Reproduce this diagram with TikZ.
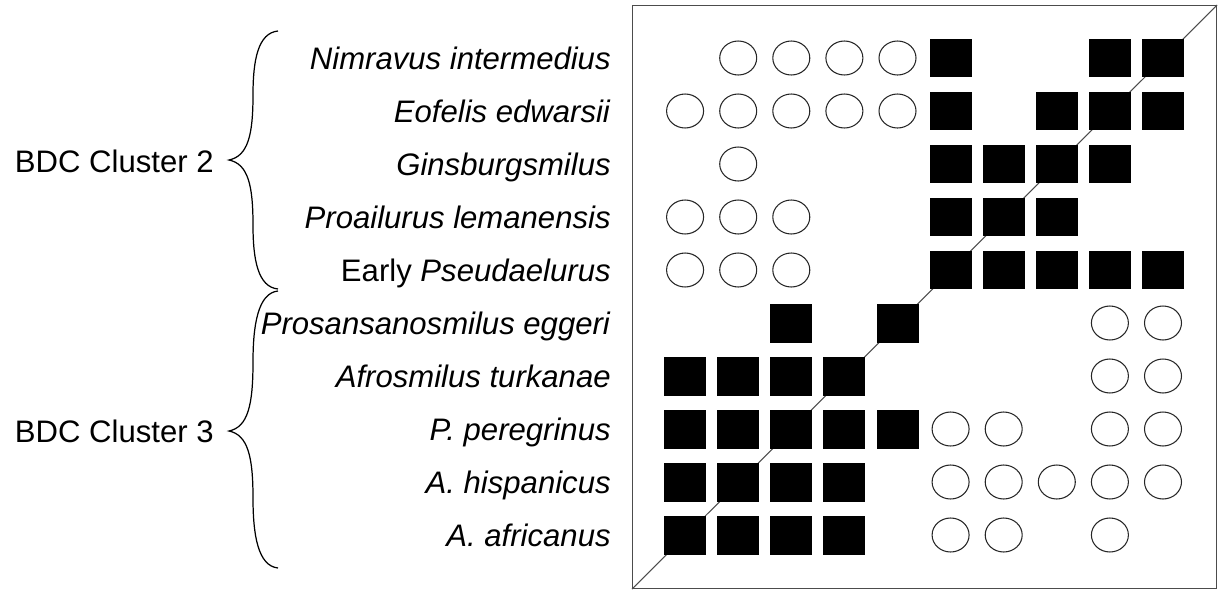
\documentclass[tikz,border=0pt]{standalone}
\usepackage{fontspec}
\setmainfont{Liberation Sans}
\usetikzlibrary{shapes.geometric}

\begin{document}
\begin{tikzpicture}[
		x=0.02cm, y=-0.02cm,
		font=\fontsize{17.7}{21}\selectfont,
		present/.style={rectangle, fill=black, inner sep=0pt,
			minimum width=0.84cm, minimum height=0.78cm},
		absent/.style={ellipse, draw=black!85, fill=white, line width=0.6pt,
			inner sep=0pt, minimum width=0.74cm, minimum height=0.68cm},
		taxon/.style={anchor=base east, inner sep=0pt},
		cluster/.style={anchor=base east, inner sep=0pt},
		curly/.style={draw=black, line width=0.7pt}
		]
		\useasboundingbox (0,0) rectangle (1225,592);
		
		% 1. Marco de la matriz y diagonal
		\node[draw=black!70, line width=0.7pt, inner sep=0pt, anchor=north west,
		minimum width=11.68cm, minimum height=11.66cm] (panel) at (632,5) {};
		\draw[black!70, line width=0.6pt] (panel.south west) -- (panel.north east);
		
		% 2. Celdas (fila / abiertos / llenos)
		\foreach \r/\open/\full in {1/{2,3,4,5}/{6,9,10}, 2/{1,2,3,4,5}/{6,8,9,10},
			3/{2}/{6,7,8,9}, 4/{1,2,3}/{6,7,8}, 5/{1,2,3}/{6,7,8,9,10},
			6/{9,10}/{3,5}, 7/{9,10}/{1,2,3,4}, 8/{6,7,9,10}/{1,2,3,4,5},
			9/{6,7,8,9,10}/{1,2,3,4}, 10/{6,7,9}/{1,2,3,4}} {
			\foreach \c in \open
			\node[absent] (m-\r-\c) at ({632+53.1*\c},{5+53*\r}) {};
			\foreach \c in \full
			\node[present] (m-\r-\c) at ({632+53.1*\c},{5+53*\r}) {};
		}
		
		% 3. Nombres de los taxones
		\foreach \r/\name in {1/\textit{Nimravus intermedius}, 2/\textit{Eofelis edwarsii},
			3/\textit{Ginsburgsmilus}, 4/\textit{Proailurus lemanensis},
			5/Early \textit{Pseudaelurus}, 6/\textit{Prosansanosmilus eggeri},
			7/\textit{Afrosmilus turkanae}, 8/\textit{P. peregrinus},
			9/\textit{A. hispanicus}, 10/\textit{A. africanus}}
		\node[taxon] (taxon-\r) at (611,{16+53*\r}) {\name};
		
		% 4. Llaves y grupos
		\draw[curly] (278,31) .. controls (258,33) and (253,60) .. (253,95)
		.. controls (253,135) and (248,156) .. (229,160)
		.. controls (248,164) and (253,185) .. (253,225)
		.. controls (253,260) and (258,287) .. (278,289);
		\draw[curly] (278,291) .. controls (258,293) and (253,325) .. (253,362)
		.. controls (253,405) and (248,427) .. (229,431)
		.. controls (248,435) and (253,457) .. (253,498)
		.. controls (253,535) and (258,566) .. (278,568);
		\node[cluster] (bdc2) at (214,172) {BDC Cluster 2};
		\node[cluster] (bdc3) at (214,442) {BDC Cluster 3};
		
	\end{tikzpicture}
\end{document}
